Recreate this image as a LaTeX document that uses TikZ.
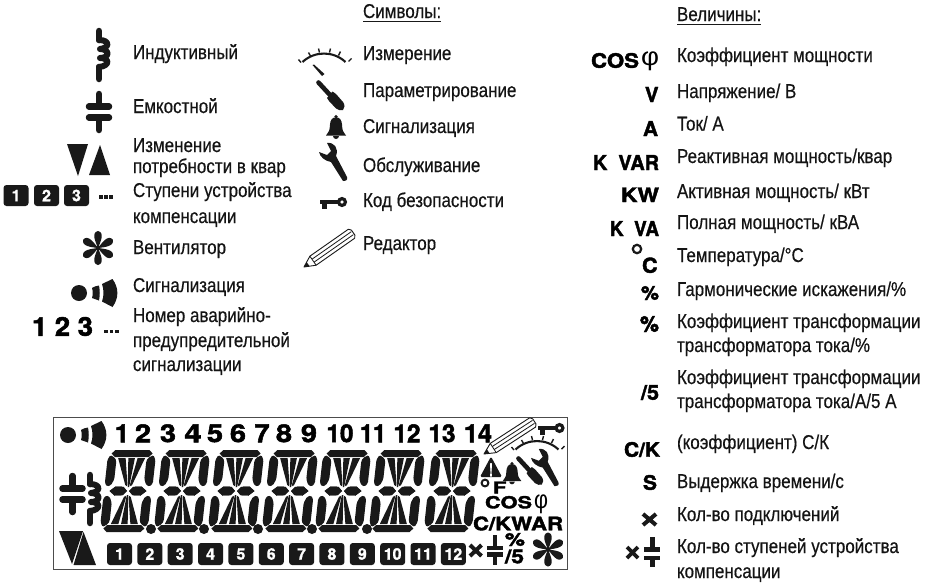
\documentclass[tikz,border=0pt]{standalone}
\usepackage{fontspec}
\usepackage{graphicx}
\newfontfamily\labfont[FakeStretch=0.85,FakeBold=0.4]{Liberation Sans}
\newfontfamily\plainfont{Liberation Sans}
\newfontfamily\blk{TeX Gyre Heros}[BoldFeatures={FakeBold=2}]
\newfontfamily\blkb{TeX Gyre Heros}[BoldFeatures={FakeBold=1}]
\newcommand{\labsize}{\fontsize{20}{20}\selectfont}
\newcommand{\blacktext}[3]{\resizebox*{#1pt}{#2pt}{\blk\bfseries\fontsize{24}{24}\selectfont #3}}
\tikzset{
  lab/.style={anchor=base west,inner sep=0pt,outer sep=0pt,font=\labfont\labsize,text=black!92},
  bfit/.style={anchor=south west,inner sep=0pt,outer sep=0pt},
  numbox/.style={fill=black!90,rounded corners=3pt,inner sep=0pt,text=white,minimum width=25pt,minimum height=22pt,font=\blkb\bfseries\fontsize{16}{16}\selectfont},
  capbar/.style={line width=6.5pt,line cap=round,black!90},
  inductor/.pic={
    \draw[line width=6.5pt,line cap=round,line join=round,black!90] (0,-24) -- (0,-15);
    \draw[line width=6pt,line cap=round,line join=round,black!90] (0,-15) .. controls (11,-15) and (11,-7) .. (1,-6) .. controls (11,-6) and (11,3) .. (1,3) .. controls (11,3) and (11,11) .. (0,12);
    \draw[line width=6.5pt,line cap=round,black!90] (0,12) -- (0,24);
  },
  capacitor/.pic={
    \draw[capbar] (-10,-5.5) -- (10,-5.5);
    \draw[capbar] (-10,5.5) -- (10,5.5);
    \draw[capbar] (0,-18) -- (0,-5.5);
    \draw[capbar] (0,5.5) -- (0,18);
  },
  fan/.pic={
    \foreach \a in {0,60,...,300}{
      \fill[black!90,rotate=\a] (0,0) .. controls (-2.5,-6) and (-7,-15.5) .. (0,-17) .. controls (7,-15.5) and (2.5,-6) .. (0,0) -- cycle;
    }
    \fill[black!90] (0,0) circle (2.5pt);
  },
  alarm/.pic={
    \fill[black!90] (0,0) circle (8pt);
    \fill[black!90] (13,-5) .. controls (16,-7) and (18,-7) .. (20,-7.5) .. controls (21,-2) and (21,2) .. (20,7.5) .. controls (18,7) and (16,6) .. (13,5) .. controls (14,2) and (14,-2) .. (13,-5) -- cycle;
    \fill[black!90] (23,-9) -- (33.5,-14) .. controls (40,-5) and (40,5) .. (33.5,14) -- (23,8.5) .. controls (25,3) and (25,-3) .. (23,-9) -- cycle;
  },
  gauge/.pic={
    \draw[line width=2.1pt,black!90] (-23,-21.5) arc[start angle=133,end angle=47,radius=31.5pt];
    \foreach \dx/\dy/\ex/\ey in {-24.5/-21/-27/-24,-15/-27.5/-17/-31,-6/-31/-7/-35,4/-31/5/-35,13/-28/15/-32,23/-22/26/-25}{
      \draw[line width=1.4pt,black!90] (\dx,\dy) -- (\ex,\ey);
    }
  },
  driver/.pic={
    \draw[line width=4.6pt,line cap=round,black!90] (0.5,0.5) -- (12,13);
    \fill[black!90] (9,16) -- (14.5,9.5) -- (18,12) -- (25,20) .. controls (27,23) and (27,26) .. (25,28) .. controls (23,29) and (20,28) .. (18,26.5) -- (11,19) -- cycle;
  },
  wrench/.pic={
    \fill[black!90] (8,0) .. controls (15,-1) and (20,5) .. (17,13) -- (28,34) .. controls (29,37) and (27,38) .. (24,38) -- (12,19) .. controls (6,18) and (1,14) .. (0,9) -- (8,12) -- (12,8) -- cycle;
  },
  bell/.pic={
    \fill[black!90] (0,1.7) circle (1.8pt);
    \fill[black!90] (-2,2.5) .. controls (-6,4) and (-6,9) .. (-6.3,13) .. controls (-6.5,17) and (-9,18) .. (-10,20.5) -- (10,20.5) .. controls (9,18) and (6.5,17) .. (6.3,13) .. controls (6,9) and (6,4) .. (2,2.5) -- cycle;
    \fill[black!90] (-3,21) arc[start angle=180,end angle=360,radius=3pt];
  },
  keyicon/.pic={
    \draw[line width=3.2pt,black!90] (0,0) circle (3.4pt);
    \fill[black!90] (-22,-1.9) rectangle (-4,1.7);
    \fill[black!90] (-20,0) rectangle (-15,6.5);
  },
  pencil/.pic={
    \draw[line width=.9pt,black!90,fill=white,line join=round] (0,0) -- (11,-5.5) -- (58,-5.5) -- (60,-3) -- (60,3) -- (58,5.5) -- (11,5.5) -- cycle;
    \draw[line width=.8pt,black!90] (11,-1.8) -- (59,-1.8) (11,1.8) -- (59,1.8);
    \fill[black!90] (0,0) -- (5,-2.5) -- (5,2.5) -- cycle;
    \draw[line width=.8pt,black!90] (11,-5.5) -- (11,5.5);
  },
  digitseg/.pic={
    \foreach \s in {1,-1}{
      \fill[black!90,yscale=\s] (-17,-41) -- (17,-41) -- (20.5,-37.5) -- (17,-34) -- (-17,-34) -- (-20.5,-37.5) -- cycle;
      \fill[black!90,yscale=\s] (-3.3,-33) -- (3.3,-33) -- (.7,-4) -- (-.7,-4) -- cycle;
      \foreach \t in {1,-1}{
        \begin{scope}[xscale=\t,yscale=\s]
          \fill[black!90,rounded corners=1.3pt] (-24,-31) -- (-21.5,-36) -- (-16.5,-33) -- (-15,-30) -- (-15,-12) -- (-17.5,-6) -- (-21.5,-4.5) -- (-24,-8) -- cycle;
          \fill[black!90] (-13.5,-33) -- (-6,-33) -- (-1.2,-6) -- (-2,-4.8) -- (-3.4,-6) -- cycle;
          \fill[black!90] (-18.5,0) -- (-13,-4.5) -- (-5,-4.2) -- (-1,0) -- (-5,4.2) -- (-13,4.5) -- cycle;
        \end{scope}
      }
    }
  },
}
\begin{document}
\begin{tikzpicture}[x=1pt,y=-1pt]
\useasboundingbox (0,0) rectangle (928,584);
\fill[white] (0,0) rectangle (928,584);
% left icons
\path (99,55) pic{inductor};
\path (99,112) pic{capacitor};
\fill[black!90] (67,144) -- (88,144) -- (78,176) -- cycle;
\fill[black!90] (89,175) -- (110,175) -- (100,145) -- cycle;
\node[numbox,minimum height=21pt] (sa) at (16,195.5) {1};
\node[numbox,minimum height=21pt] (sb) at (46.5,195.5) {2};
\node[numbox,minimum height=21pt] (sc) at (76.5,195.5) {3};
\foreach \x in {99,104,109}{\fill[black!90] (\x,195) rectangle ++(3.6,3.6);}
\path (98,248) pic{fan};
\path (79,293) pic{alarm};
\node[bfit] (nums) at (32,336) {\resizebox*{61pt}{19pt}{\blk\bfseries\fontsize{24}{24}\selectfont 1 2 3}};
\foreach \x in {104,109.5,115}{\fill[black!90] (\x,329.5) rectangle ++(3.8,3.8);}
% left text
\node[lab] (t1) at (133,59) {Индуктивный};
\node[lab] (t2) at (133,113) {Емкостной};
\node[lab] (t3) at (133,152) {Изменение};
\node[lab] (t4) at (133,173) {потребности в квар};
\node[lab] (t5) at (133,197) {Ступени устройства};
\node[lab] (t6) at (133,223) {компенсации};
\node[lab] (t7) at (133,254) {Вентилятор};
\node[lab] (t8) at (133,292) {Сигнализация};
\node[lab] (t9) at (133,322) {Номер аварийно-};
\node[lab] (t10) at (133,347) {предупредительной};
\node[lab] (t11) at (133,371) {сигнализации};
% middle
\node[lab] (m0) at (363,18) {Символы:};
\draw[line width=.9pt,black!90] (m0.base west)++(0,3.5) -- ([yshift=-3.5pt]m0.base east);
\node[lab] (m1) at (363,60) {Измерение};
\node[lab] (m2) at (363,97) {Параметрирование};
\node[lab] (m3) at (363,133) {Сигнализация};
\node[lab] (m4) at (363,172) {Обслуживание};
\node[lab] (m5) at (363,207) {Код безопасности};
\node[lab] (m6) at (363,250) {Редактор};
\path (325.5,83.5) pic{gauge};
\fill[black!90] (312.5,65) -- (314,64.5) -- (324.5,74) -- (322,76) -- cycle;
\path (318,82) pic{driver};
\path (336,115) pic{bell};
\path (319,143) pic{wrench};
\path (342,202) pic{keyicon};
\path (304,267) pic[rotate=35]{pencil};
% right column text
\node[lab] (r0) at (677,21) {Величины:};
\draw[line width=.9pt,black!90] (r0.base west)++(0,3) -- ([yshift=-3pt]r0.base east);
\node[lab] (r1) at (677,62) {Коэффициент мощности};
\node[lab] (r2) at (677,98) {Напряжение/ В};
\node[lab] (r3) at (677,130.5) {Ток/ А};
\node[lab] (r4) at (677,163) {Реактивная мощность/квар};
\node[lab] (r5) at (677,198) {Активная мощность/ кВт};
\node[lab] (r6) at (677,229) {Полная мощность/ кВА};
\node[lab] (r7) at (677,262) {Температура/°C};
\node[lab] (r8) at (677,296) {Гармонические искажения/\%};
\node[lab] (r9) at (677,328) {Коэффициент трансформации};
\node[lab] (r10) at (677,352) {трансформатора тока/\%};
\node[lab] (r11) at (677,384) {Коэффициент трансформации};
\node[lab] (r12) at (677,408) {трансформатора тока/А/5 А};
\node[lab] (r13) at (677,449) {(коэффициент) С/К};
\node[lab] (r14) at (677,488) {Выдержка времени/с};
\node[lab] (r15) at (677,521) {Кол-во подключений};
\node[lab] (r16) at (677,553) {Кол-во ступеней устройства};
\node[lab] (r17) at (677,578) {компенсации};
% right column symbols
\node[bfit] (b1) at (591,68) {\blacktext{48}{15}{COS}};
\node[bfit] (b1p) at (641,71) {\resizebox*{18pt}{19pt}{\plainfont φ}};
\node[bfit] (b2) at (645,102) {\blacktext{13.5}{15}{V}};
\node[bfit] (b3) at (643,136) {\blacktext{15}{15}{A}};
\node[bfit] (b4) at (593,170) {\blacktext{66}{15}{K\ \ VAR}};
\node[bfit] (b5) at (621,202) {\blacktext{38}{14.5}{KW}};
\node[bfit] (b6) at (610,236) {\blacktext{49}{15}{K\ \ VA}};
\draw[line width=2.2pt,black!90] (637,249) circle (4.2pt);
\node[bfit] (b7) at (642,273) {\blacktext{15.5}{15.5}{C}};
\node[bfit] (b8) at (641,300) {\blacktext{18}{14}{\%}};
\node[bfit] (b9) at (640,332) {\blacktext{19}{16}{\%}};
\node[bfit] (b10) at (641,400) {\blacktext{18}{15}{/5}};
\node[bfit] (b11) at (624,457) {\blacktext{36}{15}{C/K}};
\node[bfit] (b12) at (643,490) {\blacktext{14}{15}{S}};
\draw[line width=4pt,black!90] (643,514) -- (656,525) (656,514) -- (643,525);
\draw[line width=3.6pt,black!90] (627,547) -- (638,558) (638,547) -- (627,558);
\draw[line width=4.5pt,black!90] (644,549.5) -- (660,549.5) (644,558) -- (660,558) (652.5,537) -- (652.5,549.5) (652.5,558) -- (652.5,567);
% LCD
\draw[line width=1pt,black!70] (53,417) rectangle (567,569);
\path (68,435) pic{alarm};
\foreach \xc/\tx/\w in {122/1/14,143/2/16,168/3/16,193/4/17,215/5/16,238/6/16,262/7/15,284/8/16,309/9/16,340/10/27,373/11/26,407/12/27,442/13/27,478/14/28}{
  \node[anchor=south,inner sep=0pt] (top\tx) at (\xc,442.5) {\resizebox*{\w pt}{18pt}{\blk\bfseries\fontsize{24}{24}\selectfont \tx}};
}
\foreach \xc in {128,182,236,290,343,397,452}{
  \path (\xc,491) pic[xslant=.11]{digitseg};
}
\foreach \xc in {151,204,258,312,367}{\fill[black!90] (\xc,529) circle (5pt);}
\path (72.5,494) pic{capacitor};
\path (90,499) pic{inductor};
\fill[black!90] (59,531) -- (83,531) -- (72,564) -- cycle;
\fill[black!90] (73.5,565) -- (96,565) -- (83.5,532) -- cycle;
\foreach \i in {1,...,12}{
  \node[numbox] (box\i) at ({119.5+30.35*(\i-1)},554) {\i};
}
% LCD right
\draw[line width=4pt,black!90] (470,545) -- (481.5,556) (481.5,545) -- (470,556);
\draw[line width=4.5pt,black!90] (487,548) -- (503,548) (487,554.5) -- (503,554.5) (495,535) -- (495,548) (495,554.5) -- (495,565);
\node[bfit] (lp) at (505,546) {\blacktext{20}{13}{\%}};
\node[bfit] (ls) at (505,563.5) {\blacktext{19}{14}{/5}};
\path (548,549.5) pic{fan};
\path (484,454) pic[rotate=33]{pencil};
\path (559.5,428) pic{keyicon};
\path (538.5,471) pic{gauge};
\path (518,458) pic[scale=.95]{driver};
\path (531,449) pic[scale=.98]{wrench};
\path (512,462) pic[scale=.93]{bell};
\fill[black!90,rounded corners=1.5pt] (491,456.5) -- (480,477) -- (502,477) -- cycle;
\node[anchor=south,inner sep=0pt,text=white] (wx) at (491,476.5) {\resizebox*{3.6pt}{13pt}{\blk\bfseries\fontsize{24}{24}\selectfont !}};
\draw[line width=2pt,black!90] (485,483) circle (3.4pt);
\node[bfit] (lf) at (493,493.5) {\blacktext{13.5}{12}{F}};
\node[bfit] (lc) at (485,508.5) {\blacktext{47}{12.5}{COS}};
\node[bfit] (lph) at (534,514) {\resizebox*{14pt}{19pt}{\plainfont φ}};
\node[bfit] (lk) at (473,530.5) {\blacktext{90}{14}{C/KWAR}};
\end{tikzpicture}
\end{document}
